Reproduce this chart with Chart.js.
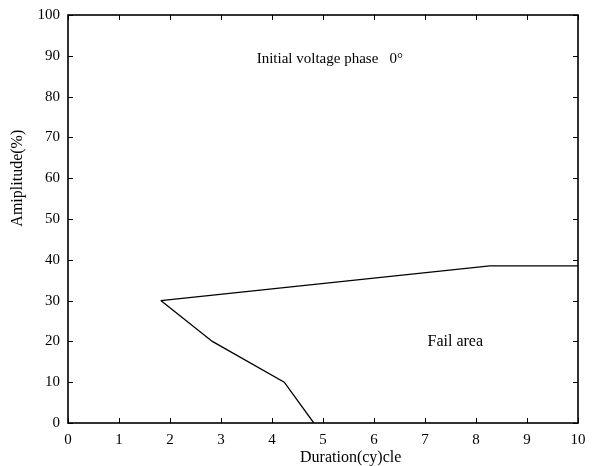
<!DOCTYPE html>
<html><head><meta charset="utf-8">
<script src="https://cdn.jsdelivr.net/npm/chart.js@4/dist/chart.umd.min.js"></script>
<style>html,body{margin:0;padding:0;background:#fff}#wrap{width:595px;height:466px}</style>
</head><body><div id="wrap"><canvas id="c" width="595" height="466"></canvas></div>
<script>
const durationCycles = [1.82, 2.83, 4.24, 4.82];
const amplitudeLower = [30, 20, 10, 0];
const durationUpper = [1.82, 8.27, 10];
const amplitudeUpper = [30, 38.5, 38.5];
const xTicks = [0,1,2,3,4,5,6,7,8,9,10];
const yTicks = [0,10,20,30,40,50,60,70,80,90,100];
const xTitle = 'Duration(cy)cle';
const yTitle = 'Amiplitude(%)';
const phaseLabel = 'Initial voltage phase   0°';
const failLabel = 'Fail area';

const FONT = '"Liberation Serif", "Times New Roman", serif';
const lower = durationCycles.map((x,i)=>({x, y: amplitudeLower[i]}));
const upper = durationUpper.map((x,i)=>({x, y: amplitudeUpper[i]}));

const inTicks = {
  id: 'inTicks',
  afterDatasetsDraw(chart){
    const {ctx, chartArea:a, scales:{x, y}} = chart;
    ctx.save();
    ctx.strokeStyle = '#000'; ctx.lineWidth = 1;
    const L = 5;
    xTicks.forEach(v=>{
      const px = Math.round(x.getPixelForValue(v))+0.5;
      ctx.beginPath(); ctx.moveTo(px, a.bottom); ctx.lineTo(px, a.bottom-L);
      ctx.moveTo(px, a.top); ctx.lineTo(px, a.top+L); ctx.stroke();
    });
    yTicks.forEach(v=>{
      const py = Math.round(y.getPixelForValue(v))+0.5;
      ctx.beginPath(); ctx.moveTo(a.left, py); ctx.lineTo(a.left+L, py);
      ctx.moveTo(a.right, py); ctx.lineTo(a.right-L, py); ctx.stroke();
    });
    ctx.lineWidth = 1.6;
    ctx.strokeRect(a.left, a.top, a.right-a.left, a.bottom-a.top);
    ctx.fillStyle = '#000';
    ctx.textBaseline = 'alphabetic';
    ctx.font = '15px ' + FONT;
    ctx.textAlign = 'left';
    ctx.fillText(phaseLabel, x.getPixelForValue(3.7), y.getPixelForValue(88.3));
    ctx.font = '16px ' + FONT;
    ctx.fillText(failLabel, x.getPixelForValue(7.05), y.getPixelForValue(18.9));
    // axis titles
    ctx.fillText(xTitle, x.getPixelForValue(4.55), 462);
    ctx.translate(22, y.getPixelForValue(60));
    ctx.rotate(-Math.PI/2);
    ctx.textAlign = 'center';
    ctx.fillText(yTitle, 0, 0);
    ctx.restore();
  }
};

new Chart(document.getElementById('c'), {
  type: 'scatter',
  data: { datasets: [
    { data: upper, showLine: true, borderColor: '#000', borderWidth: 1.3, pointRadius: 0, tension: 0 },
    { data: lower, showLine: true, borderColor: '#000', borderWidth: 1.3, pointRadius: 0, tension: 0 }
  ]},
  options: {
    responsive: false, animation: false,
    layout: { padding: { top: 15, right: 17, left: 0, bottom: 0 } },
    plugins: { legend: { display: false }, tooltip: { enabled: false } },
    scales: {
      x: {
        type: 'linear', min: 0, max: 10,
        afterBuildTicks(s){ s.ticks = xTicks.map(v=>({value:v})); },
        afterFit(s){ s.height = 43; s.paddingLeft = 0; s.paddingRight = 0; },
        grid: { drawOnChartArea: false, drawTicks: false },
        border: { display: false },
        ticks: { color: '#000', font: { family: FONT, size: 15 }, padding: 8, maxRotation: 0, autoSkip: false },
        title: { display: false }
      },
      y: {
        type: 'linear', min: 0, max: 100,
        afterBuildTicks(s){ s.ticks = yTicks.map(v=>({value:v})); },
        afterFit(s){ s.width = 68; s.paddingTop = 0; s.paddingBottom = 0; },
        grid: { drawOnChartArea: false, drawTicks: false },
        border: { display: false },
        ticks: { color: '#000', font: { family: FONT, size: 15 }, padding: 8, autoSkip: false },
        title: { display: false }
      }
    }
  },
  plugins: [inTicks]
});
</script></body></html>
